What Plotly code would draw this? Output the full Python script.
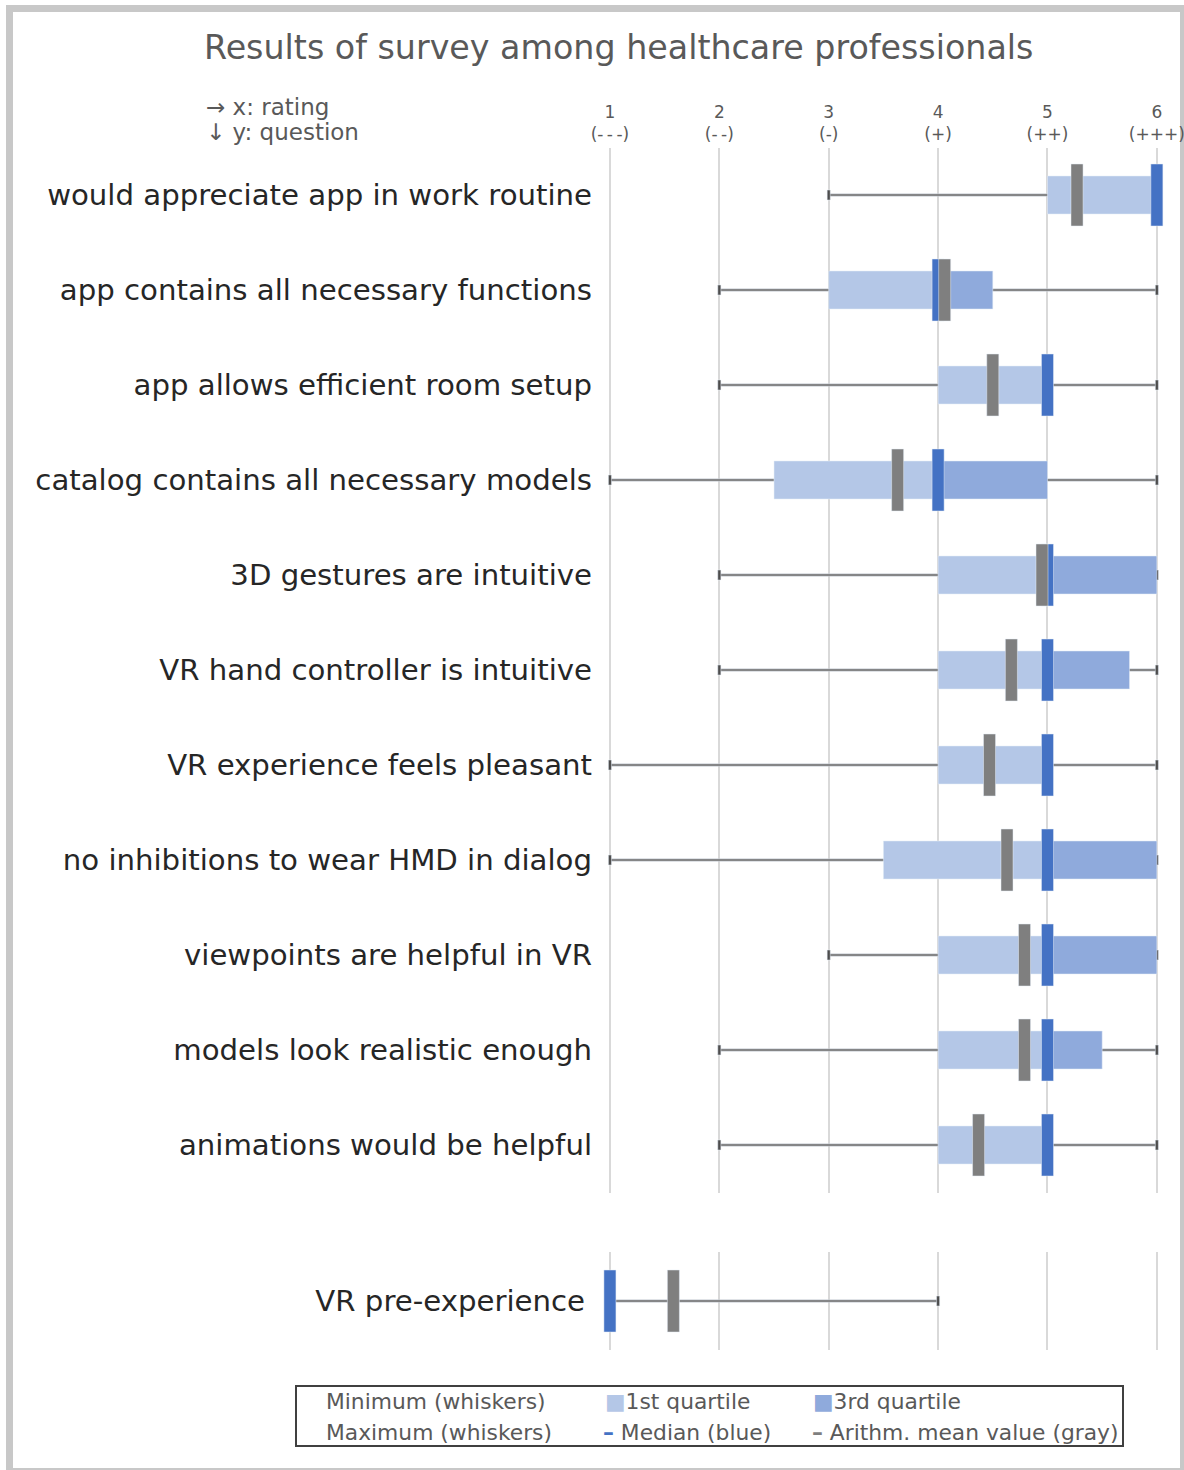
import plotly.graph_objects as go
from plotly.subplots import make_subplots

# ---- survey statistics (rating scale 1..6) ----
questions = [
    "would appreciate app in work routine",
    "app contains all necessary functions",
    "app allows efficient room setup",
    "catalog contains all necessary models",
    "3D gestures are intuitive",
    "VR hand controller is intuitive",
    "VR experience feels pleasant",
    "no inhibitions to wear HMD in dialog",
    "viewpoints are helpful in VR",
    "models look realistic enough",
    "animations would be helpful",
]
q_min = [3, 2, 2, 1, 2, 2, 1, 1, 3, 2, 2]
q_q1 = [5, 3, 4, 2.5, 4, 4, 4, 3.5, 4, 4, 4]
q_median = [6, 4, 5, 4, 5, 5, 5, 5, 5, 5, 5]
q_q3 = [6, 4.5, 5, 5, 6, 5.75, 5, 6, 6, 5.5, 5]
q_max = [6, 6, 6, 6, 6, 6, 6, 6, 6, 6, 6]
q_mean = [5.27, 4.06, 4.5, 3.63, 4.95, 4.67, 4.47, 4.63, 4.79, 4.79, 4.37]

pre_label = ["VR pre-experience"]
pre_min = [1]
pre_q1 = [1]
pre_median = [1]
pre_q3 = [1]
pre_max = [4]
pre_mean = [1.58]

rating_ticks = [1, 2, 3, 4, 5, 6]
rating_text = ["1<br>(-\u2009-\u2009-)", "2<br>(-\u2009-)", "3<br>(-)", "4<br>(+)", "5<br>(++)", "6<br>(+++)"]

# ---- styling ----
W, H = 1184, 1470
C_WHISK = "#787878"
C_CAP = "#4d4d4d"
C_Q1 = "#b4c7e7"
C_Q3 = "#8faadc"
C_MED = "#4472c4"
C_MEAN = "#7f7f7f"
C_GRID = "#d9d9d9"
C_TEXT = "#595959"
FONT = "DejaVu Sans"
MARK_W = 0.11  # width of median / mean markers in rating units
CAP_W = 0.028


def px_x(x):
    return x / W


def px_y(y):
    return 1 - y / H


fig = make_subplots(rows=2, cols=1)


def add_boxes(row, labels, mn, q1, med, q3, mx, mean, row_px):
    ys = list(range(len(labels)))
    n = len(ys)
    whisk_w = 2.5 / row_px
    cap_h = 10 / row_px
    box_h = 38 / row_px
    mark_h = 62 / row_px
    common = dict(orientation="h", y=ys, hoverinfo="skip", showlegend=False)
    # whisker line min..max
    fig.add_trace(go.Bar(base=mn, x=[b - a for a, b in zip(mn, mx)], width=[whisk_w] * n,
                         marker_color=C_WHISK, **common), row=row, col=1)
    # whisker end caps
    fig.add_trace(go.Bar(base=[v - CAP_W / 2 for v in mn], x=[CAP_W] * n, width=[cap_h] * n,
                         marker_color=C_CAP, **common), row=row, col=1)
    fig.add_trace(go.Bar(base=[v - CAP_W / 2 for v in mx], x=[CAP_W] * n, width=[cap_h] * n,
                         marker_color=C_CAP, **common), row=row, col=1)
    # 1st quartile box (q1..median) and 3rd quartile box (median..q3)
    fig.add_trace(go.Bar(base=q1, x=[b - a for a, b in zip(q1, med)], width=[box_h] * n,
                         marker_color=C_Q1, **common), row=row, col=1)
    fig.add_trace(go.Bar(base=med, x=[b - a for a, b in zip(med, q3)], width=[box_h] * n,
                         marker_color=C_Q3, **common), row=row, col=1)
    # median (blue) and arithmetic mean (gray)
    fig.add_trace(go.Bar(base=[v - MARK_W / 2 for v in med], x=[MARK_W] * n, width=[mark_h] * n,
                         marker_color=C_MED, **common), row=row, col=1)
    fig.add_trace(go.Bar(base=[v - MARK_W / 2 for v in mean], x=[MARK_W] * n, width=[mark_h] * n,
                         marker_color=C_MEAN, **common), row=row, col=1)


add_boxes(1, questions, q_min, q_q1, q_median, q_q3, q_max, q_mean, 95)
add_boxes(2, pre_label, pre_min, pre_q1, pre_median, pre_q3, pre_max, pre_mean, 98)

x_dom = [px_x(599), px_x(1170)]
x_range = [0.9, 6.12]
grid = dict(showgrid=True, gridcolor=C_GRID, gridwidth=1.5, zeroline=False, showline=False,
            range=x_range, domain=x_dom, tickvals=rating_ticks, fixedrange=True, automargin=False)

fig.update_layout(
    width=W, height=H,
    margin=dict(l=0, r=0, t=0, b=0, autoexpand=False),
    paper_bgcolor="white", plot_bgcolor="white",
    barmode="overlay",
    font=dict(family=FONT, color=C_TEXT),
    xaxis=dict(**grid, side="top", ticktext=rating_text, ticks="", ticklabelstandoff=3,
               ticklabeloverflow="allow",
               tickfont=dict(size=17, color=C_TEXT, family=FONT)),
    xaxis2=dict(**grid, showticklabels=False),
    yaxis=dict(domain=[px_y(1192.5), px_y(147.5)], range=[10.5, -0.5], tickvals=list(range(len(questions))),
               ticktext=questions, showgrid=False, zeroline=False, ticks="", ticklabelstandoff=6,
               automargin=False, tickfont=dict(size=29.2, color="#262626", family=FONT)),
    yaxis2=dict(domain=[px_y(1350), px_y(1252)], range=[0.5, -0.5], tickvals=[0],
                ticktext=pre_label, showgrid=False, zeroline=False, ticks="", ticklabelstandoff=13,
                automargin=False, tickfont=dict(size=29.2, color="#262626", family=FONT)),
)

annotations = [
    dict(text="Results of survey among healthcare professionals", x=px_x(618), y=px_y(48),
         xanchor="center", yanchor="middle", font=dict(size=33.3, color=C_TEXT)),
    dict(text="\u2192 x: rating", x=px_x(204), y=px_y(107), xanchor="left", yanchor="middle",
         font=dict(size=23, color=C_TEXT)),
    dict(text="\u2193 y: question", x=px_x(204), y=px_y(132), xanchor="left", yanchor="middle",
         font=dict(size=23, color=C_TEXT)),
]

legend_items = [
    ("Minimum (whiskers)", 324, 1401),
    ("Maximum (whiskers)", 324, 1432),
    (f"<span style='color:{C_Q1}'>\u25A0</span>1st quartile", 603, 1401),
    (f"<span style='color:{C_MED}'><b>\u2013</b></span> Median (blue)", 601, 1432),
    (f"<span style='color:{C_Q3}'>\u25A0</span>3rd quartile", 811, 1401),
    (f"<span style='color:{C_MEAN}'><b>\u2013</b></span> Arithm. mean value (gray)", 810, 1432),
]
for txt, lx, ly in legend_items:
    annotations.append(dict(text=txt, x=px_x(lx), y=px_y(ly), xanchor="left", yanchor="middle",
                            font=dict(size=21.8, color=C_TEXT, family=FONT)))

for a in annotations:
    a.update(xref="paper", yref="paper", showarrow=False)
fig.update_layout(annotations=annotations)

fig.update_layout(shapes=[
    # legend frame
    dict(type="rect", xref="paper", yref="paper", x0=px_x(296), x1=px_x(1123),
         y0=px_y(1446), y1=px_y(1386), line=dict(color="#404040", width=2), layer="above"),
    # outer border (kept under the axis labels)
    dict(type="rect", xref="paper", yref="paper", x0=px_x(9.5), x1=px_x(1183.5),
         y0=px_y(1471.5), y1=px_y(8.5), line=dict(color="#c8c8c8", width=7), layer="below"),
])

fig.write_html("out.html")
